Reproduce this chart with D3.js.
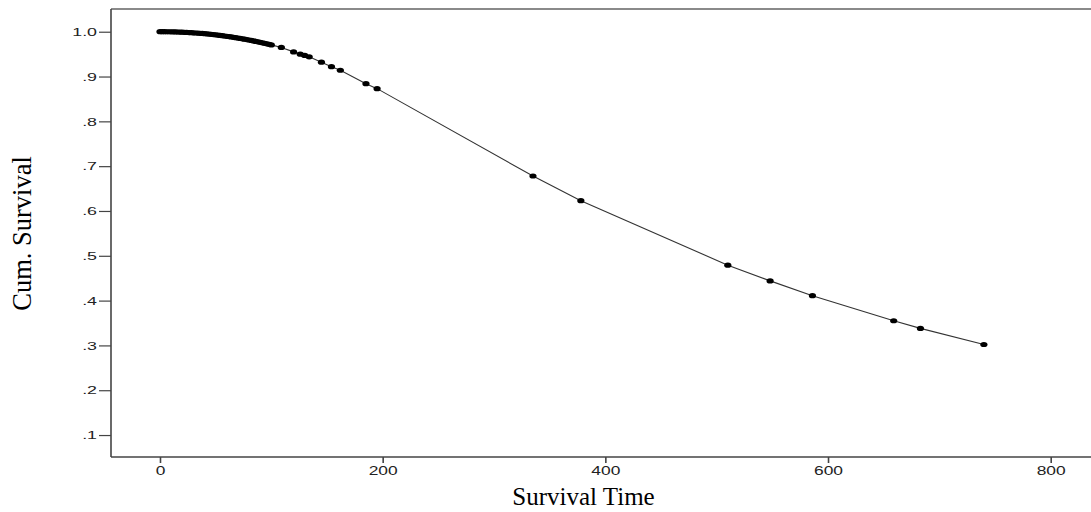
<!DOCTYPE html>
<html>
<head>
<meta charset="utf-8">
<script src="https://cdn.jsdelivr.net/npm/d3@7"></script>
<style>
  html, body { margin: 0; padding: 0; background: #fff; }
  svg { display: block; }
</style>
</head>
<body>
<svg id="chart" width="1091" height="512"></svg>
<script>
// Survival times (x) and cumulative survival (y)
const times = [
  0, 2, 4, 6, 8, 10, 12, 14, 16, 18, 20, 22, 24, 26, 28, 30, 32, 34, 36, 38,
  40, 42, 44, 46, 48, 50, 52, 54, 56, 58, 60, 62, 64, 66, 68, 70, 72, 74, 76, 78,
  80, 82, 84, 86, 88, 90, 92, 94, 96, 98, 100,
  109, 120, 126, 130, 134, 145, 154, 162, 185, 195,
  335, 378, 510, 548, 586, 659, 683, 740
];
const survival = [
  1.0000, 1.0000, 1.0000, 0.9999, 0.9999, 0.9998, 0.9997, 0.9995, 0.9994, 0.9992,
  0.9990, 0.9987, 0.9985, 0.9982, 0.9979, 0.9976, 0.9972, 0.9969, 0.9965, 0.9961,
  0.9957, 0.9952, 0.9947, 0.9942, 0.9937, 0.9931, 0.9925, 0.9918, 0.9912, 0.9905,
  0.9898, 0.9891, 0.9883, 0.9876, 0.9868, 0.9860, 0.9851, 0.9842, 0.9833, 0.9824,
  0.9815, 0.9805, 0.9795, 0.9784, 0.9774, 0.9763, 0.9752, 0.9741, 0.9729, 0.9718, 0.9706,
  0.965, 0.955, 0.950, 0.947, 0.944, 0.932, 0.922, 0.914, 0.884, 0.873,
  0.678, 0.623, 0.479, 0.444, 0.411, 0.355, 0.338, 0.302
];
const xTicks = [0, 200, 400, 600, 800];
const yTicks = [0.1, 0.2, 0.3, 0.4, 0.5, 0.6, 0.7, 0.8, 0.9, 1.0];
const xTitle = "Survival Time";
const yTitle = "Cum. Survival";

const svg = d3.select("#chart");
const plotLeft = 111, plotRight = 1091, plotTop = 9, plotBottom = 457;

const x = d3.scaleLinear().domain([-44, 836.2]).range([plotLeft, plotRight]);
const y = d3.scaleLinear().domain([0.051, 1.0507]).range([plotBottom, plotTop]);

const pts = times.map((t, i) => ({ t, s: survival[i] }));

// top border
svg.append("line")
  .attr("x1", plotLeft).attr("x2", plotRight)
  .attr("y1", plotTop).attr("y2", plotTop)
  .attr("stroke", "#8a8a8a").attr("stroke-width", 2);

// Y axis
const yAxis = svg.append("g")
  .attr("transform", `translate(${plotLeft},0)`)
  .call(d3.axisLeft(y).tickValues(yTicks).tickSize(12).tickPadding(2)
    .tickFormat(v => v >= 0.999 ? "1.0" : "." + Math.round(v * 10)));
yAxis.select(".domain").attr("stroke", "#444").attr("stroke-width", 1.6)
  .attr("d", `M0,${plotTop}V${plotBottom}`);
yAxis.selectAll(".tick line").attr("stroke", "#444").attr("stroke-width", 1.2);
const ySx = 1.55;
yAxis.selectAll(".tick text")
  .attr("font-family", "'Liberation Sans', Arial, sans-serif")
  .attr("font-size", 11.5)
  .attr("fill", "#222")
  .attr("x", -14 / ySx)
  .attr("transform", `scale(${ySx},1)`);

// X axis
const xAxis = svg.append("g")
  .attr("transform", `translate(0,${plotBottom})`)
  .call(d3.axisBottom(x).tickValues(xTicks).tickSize(6).tickPadding(3)
    .tickFormat(d3.format("d")));
xAxis.select(".domain").attr("stroke", "#444").attr("stroke-width", 1.6)
  .attr("d", `M${plotLeft},0H${plotRight}`);
xAxis.selectAll(".tick line").attr("stroke", "#444").attr("stroke-width", 1.6);
const xSx = 1.45;
xAxis.selectAll(".tick text")
  .attr("font-family", "'Liberation Sans', Arial, sans-serif")
  .attr("font-size", 12)
  .attr("fill", "#222")
  .attr("transform", `scale(${xSx},1)`);

// survival line
svg.append("path")
  .datum(pts)
  .attr("fill", "none")
  .attr("stroke", "#333")
  .attr("stroke-width", 1.1)
  .attr("d", d3.line().x(d => x(d.t)).y(d => y(d.s)));

// markers
svg.append("g").selectAll("ellipse")
  .data(pts)
  .join("ellipse")
  .attr("cx", d => x(d.t))
  .attr("cy", d => y(d.s))
  .attr("rx", 3.6)
  .attr("ry", 2.6)
  .attr("fill", "#000");

// titles
svg.append("text")
  .attr("x", 583.5).attr("y", 505)
  .attr("text-anchor", "middle")
  .attr("font-family", "'Liberation Serif', 'Times New Roman', serif")
  .attr("font-size", 25)
  .attr("fill", "#000")
  .text(xTitle);

svg.append("text")
  .attr("transform", "translate(31,233.5) rotate(-90)")
  .attr("text-anchor", "middle")
  .attr("font-family", "'Liberation Serif', 'Times New Roman', serif")
  .attr("font-size", 26.5)
  .attr("fill", "#000")
  .text(yTitle);
</script>
</body>
</html>
